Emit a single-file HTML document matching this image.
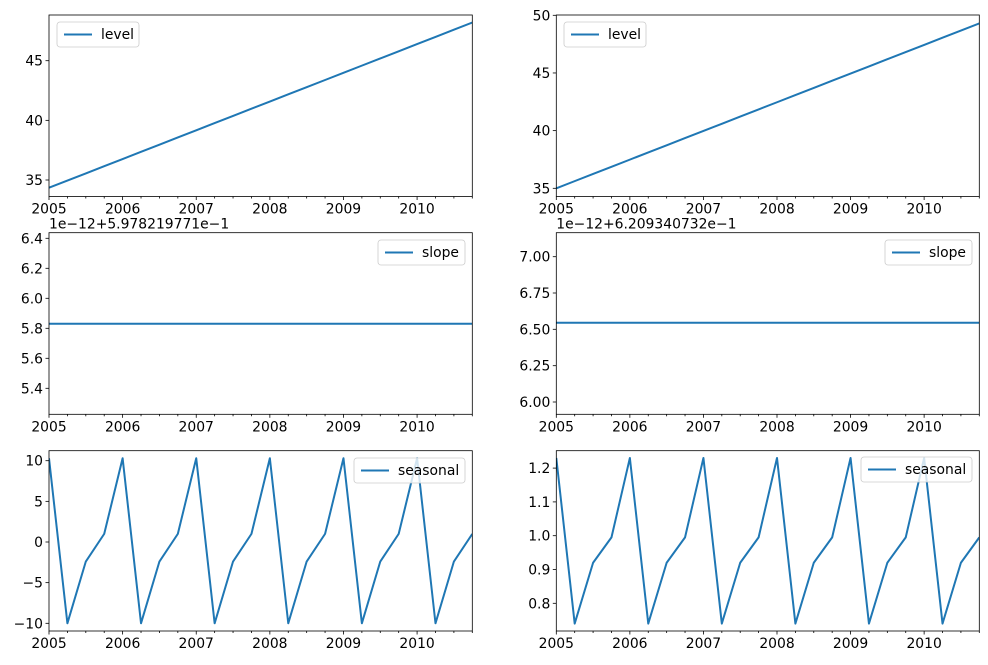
<!DOCTYPE html>
<html><head><meta charset="utf-8">
<style>
html,body{margin:0;padding:0;background:#fff;}
svg{display:block;}
text{font-family:"DejaVu Sans","Liberation Sans",sans-serif;font-size:13.9px;fill:#000;}
</style></head>
<body>
<svg id="s" width="988" height="665" xmlns="http://www.w3.org/2000/svg"></svg>
<script>
const s=document.getElementById('s');
let h='';
const C='#1f77b4';
function panel(x0,x1,y0,y1,yt,yv,series,legend,offText){
  const yr=(x1-x0)/5.75;
  let pts=series.map((v,i)=>[(x0+i*yr/4).toFixed(2),yv(v).toFixed(2)].join(',')).join(' ');
  h+=`<clipPath id="c${x0}${y0}"><rect x="${x0}" y="${y0}" width="${x1-x0}" height="${y1-y0}"/></clipPath>`;
  h+=`<polyline clip-path="url(#c${x0}${y0})" points="${pts}" fill="none" stroke="${C}" stroke-width="2" stroke-linejoin="round"/>`;
  h+=`<rect x="${x0}" y="${y0}" width="${x1-x0}" height="${y1-y0}" fill="none" stroke="#000" stroke-width="0.8"/>`;
  for(let q=0;q<=23;q++){
    const x=x0+q*yr/4;
    const major=q%4==0;
    h+=`<line x1="${x}" y1="${y1}" x2="${x}" y2="${y1+(major?3.5:2)}" stroke="#000" stroke-width="0.8"/>`;
    if(major) h+=`<text x="${x}" y="${y1+17}" text-anchor="middle">${2005+q/4}</text>`;
  }
  yt.forEach(([l,y])=>{
    h+=`<line x1="${x0-3.5}" y1="${y}" x2="${x0}" y2="${y}" stroke="#000" stroke-width="0.8"/>`;
    h+=`<text x="${x0-6}" y="${y+5}" text-anchor="end">${l}</text>`;
  });
  if(offText) h+=`<text x="${x0}" y="${y0-4}">${offText}</text>`;
  const [lx,ly,lw,lab]=legend;
  h+=`<rect x="${lx}" y="${ly}" width="${lw}" height="25" rx="3" fill="#fff" fill-opacity="0.8" stroke="#ccc" stroke-width="0.8"/>`;
  h+=`<line x1="${lx+7}" y1="${ly+12.5}" x2="${lx+35}" y2="${ly+12.5}" stroke="${C}" stroke-width="2"/>`;
  h+=`<text x="${lx+44}" y="${ly+17}">${lab}</text>`;
}
const LX0=49,LX1=472.3,RX0=556.3,RX1=979.3;
{
 const sc=(180-60.7)/10, yv=v=>180-(v-35)*sc;
 let ser=[];for(let i=0;i<24;i++)ser.push(34.35+i*(48.2-34.35)/23);
 panel(LX0,LX1,15,196.5,[['35',yv(35)],['40',yv(40)],['45',yv(45)]],yv,ser,[57,22,82,'level']);
}
{
 const sc=(188.3-15.3)/15, yv=v=>188.3-(v-35)*sc;
 let ser=[];for(let i=0;i<24;i++)ser.push(35.0+i*(49.3-35.0)/23);
 panel(RX0,RX1,15,196.5,[['35',yv(35)],['40',yv(40)],['45',yv(45)],['50',yv(50)]],yv,ser,[564,22,82,'level']);
}
{
 const yv=v=>238.3+(6.4-v)*150;
 let ser=[];for(let i=0;i<24;i++)ser.push(5.83);
 panel(LX0,LX1,232.7,414.3,[['6.4',238.3],['6.2',268.3],['6.0',298.3],['5.8',328.3],['5.6',358.3],['5.4',388.3]],yv,ser,[378,240,87,'slope'],'1e\u221212+5.978219771e\u22121');
}
{
 const yv=v=>256.7+(7-v)*145.3;
 let ser=[];for(let i=0;i<24;i++)ser.push(6.545);
 panel(RX0,RX1,232.7,414.3,[['7.00',256.7],['6.75',293],['6.50',329.3],['6.25',365.7],['6.00',402]],yv,ser,[885,240,87,'slope'],'1e\u221212+6.209340732e\u22121');
}
{
 const yv=v=>542-v*8.13;
 const pat=[10.3,-10,-2.4,1.0];let ser=[];for(let i=0;i<24;i++)ser.push(pat[i%4]);
 panel(LX0,LX1,450.7,631,[['10',yv(10)],['5',yv(5)],['0',yv(0)],['\u22125',yv(-5)],['\u221210',yv(-10)]],yv,ser,[354,458,111,'seasonal']);
}
{
 const yv=v=>535.7-(v-1)*338;
 const pat=[1.23,0.74,0.92,0.995];let ser=[];for(let i=0;i<24;i++)ser.push(pat[i%4]);
 panel(RX0,RX1,450.7,631,[['0.8',yv(0.8)],['0.9',yv(0.9)],['1.0',yv(1.0)],['1.1',yv(1.1)],['1.2',yv(1.2)]],yv,ser,[861,457,111,'seasonal']);
}
s.innerHTML=h;
</script>
</body></html>
